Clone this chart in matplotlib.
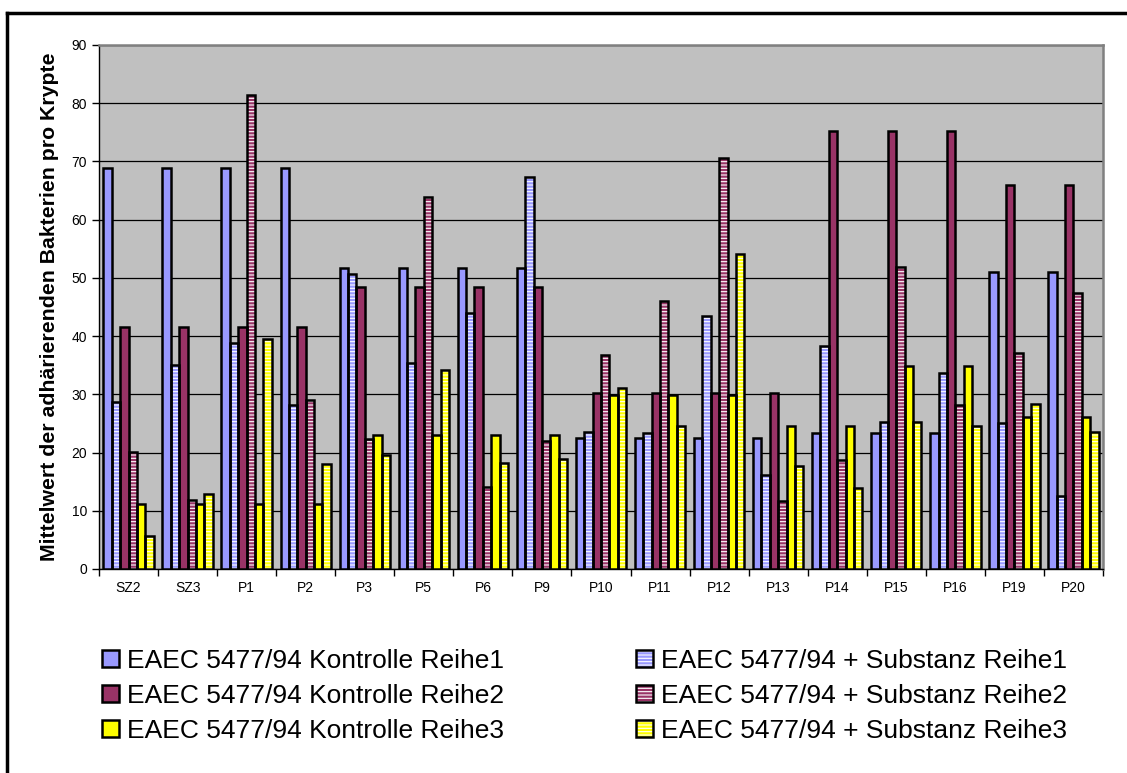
import numpy as np
import matplotlib
matplotlib.use('Agg')
import matplotlib.pyplot as plt
from matplotlib.lines import Line2D
from matplotlib.legend_handler import HandlerTuple

plt.rcParams['font.family'] = ['Liberation Sans', 'DejaVu Sans']
plt.rcParams['hatch.linewidth'] = 0.8

categories = ['SZ2', 'SZ3', 'P1', 'P2', 'P3', 'P5', 'P6', 'P9', 'P10', 'P11',
              'P12', 'P13', 'P14', 'P15', 'P16', 'P19', 'P20']

kontrolle_r1 = [68.9, 68.9, 68.9, 68.9, 51.7, 51.7, 51.7, 51.7, 22.5, 22.5,
                22.5, 22.5, 23.4, 23.4, 23.4, 51.0, 51.0]
substanz_r1 = [28.7, 35.1, 38.8, 28.1, 50.7, 35.3, 43.9, 67.4, 23.6, 23.3,
               43.4, 16.1, 38.3, 25.3, 33.6, 25.1, 12.5]
kontrolle_r2 = [41.5, 41.5, 41.5, 41.5, 48.5, 48.5, 48.5, 48.5, 30.2, 30.2,
                30.2, 30.2, 75.2, 75.2, 75.2, 65.9, 65.9]
substanz_r2 = [20.1, 11.9, 81.4, 29.1, 22.4, 63.9, 14.1, 22.0, 36.7, 46.1,
               70.6, 11.6, 18.7, 51.8, 28.1, 37.1, 47.4]
kontrolle_r3 = [11.1, 11.1, 11.1, 11.1, 23.1, 23.1, 23.1, 23.1, 29.9, 29.9,
                29.9, 24.6, 24.6, 34.8, 34.8, 26.1, 26.1]
substanz_r3 = [5.7, 12.8, 39.5, 18.0, 19.5, 34.1, 18.2, 18.9, 31.1, 24.5,
               54.1, 17.7, 13.9, 25.3, 24.6, 28.3, 23.6]

series = [
    ('EAEC 5477/94 Kontrolle Reihe1', kontrolle_r1, '#9999FF', False),
    ('EAEC 5477/94 + Substanz Reihe1', substanz_r1, '#9999FF', True),
    ('EAEC 5477/94 Kontrolle Reihe2', kontrolle_r2, '#993366', False),
    ('EAEC 5477/94 + Substanz Reihe2', substanz_r2, '#993366', True),
    ('EAEC 5477/94 Kontrolle Reihe3', kontrolle_r3, '#FFFF00', False),
    ('EAEC 5477/94 + Substanz Reihe3', substanz_r3, '#FFFF00', True),
]

W, H = 1127, 773
fig = plt.figure(figsize=(W / 100, H / 100), dpi=100)
ax = fig.add_axes([99 / W, 1 - 569 / H, (1103 - 99) / W, (569 - 45) / H])
ax.set_facecolor('#C0C0C0')

x = np.arange(len(categories))
bw = 0.142
handles = {}
for j, (name, vals, col, striped) in enumerate(series):
    pos = x + (j - 2.5) * bw
    if striped:
        fill = ax.bar(pos, vals, bw, color=col, edgecolor='white', hatch='-----',
                      linewidth=0, zorder=3)
    else:
        fill = ax.bar(pos, vals, bw, color=col, linewidth=0, zorder=3)
    outline = ax.bar(pos, vals, bw, fill=False, edgecolor='black', linewidth=1.8, zorder=4)
    handles[name] = (fill[0], outline[0])

ax.set_ylim(0, 90)
ax.set_xlim(-0.5, len(categories) - 0.5)
ax.set_yticks(np.arange(0, 91, 10))
ax.yaxis.grid(True, color='black', linewidth=0.9)
ax.set_axisbelow(True)
ax.tick_params(axis='y', labelsize=10, length=5, width=1, direction='out')

ax.set_xticks(np.arange(-0.5, len(categories), 1))
ax.set_xticklabels([])
ax.tick_params(axis='x', which='major', length=5, width=1, direction='out')
ax.set_xticks(x, minor=True)
ax.set_xticklabels(categories, minor=True, fontsize=10)
ax.tick_params(axis='x', which='minor', length=0, pad=9)

for s in ['top', 'right']:
    ax.spines[s].set_color('#808080')
    ax.spines[s].set_linewidth(1.8)
for s in ['left', 'bottom']:
    ax.spines[s].set_color('black')
    ax.spines[s].set_linewidth(1)

ax.set_ylabel('Mittelwert der adhärierenden Bakterien pro Krypte', fontsize=15.3,
              fontweight='bold', labelpad=9)

order = [s[0] for s in series]
leg_names = order[0::2] + order[1::2]
fig.legend([handles[n] for n in leg_names], leg_names, ncol=2, loc='upper left',
           bbox_to_anchor=(78 / W, 1 - 625 / H), frameon=False, fontsize=19,
           handler_map={tuple: HandlerTuple(ndivide=1, pad=0)},
           handlelength=0.65, handleheight=0.65, handletextpad=0.3,
           columnspacing=5.0, labelspacing=0.42)

# outer chart border (only top and left edges visible)
fig.add_artist(Line2D([7 / W, 7 / W], [0, 1 - 13 / H], color='black', linewidth=2.5))
fig.add_artist(Line2D([7 / W, 1], [1 - 13 / H, 1 - 13 / H], color='black', linewidth=2.5))

fig.savefig('out.png', dpi=100)
